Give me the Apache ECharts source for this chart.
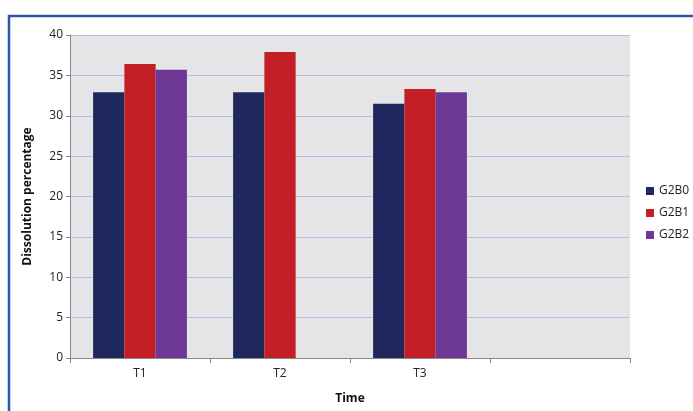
<!DOCTYPE html>
<html><head><meta charset="utf-8">
<script src="https://cdn.jsdelivr.net/npm/echarts@6/dist/echarts.min.js"></script>
<style>html,body{margin:0;padding:0;background:#fff}#c{width:693px;height:411px}</style>
</head><body><div id="c"></div>
<script>
var categories = ['T1', 'T2', 'T3', ''];
var seriesNames = ['G2B0', 'G2B1', 'G2B2'];
var g2b0 = [32.9, 32.9, 31.5, null];
var g2b1 = [36.4, 37.9, 33.3, null];
var g2b2 = [35.7, null, 32.9, null];
var yTicks = [0, 5, 10, 15, 20, 25, 30, 35, 40];
var colors = ['#1f285c', '#c21f26', '#6e3896'];

var chart = echarts.init(document.getElementById('c'));
var font = '"Open Sans", "DejaVu Sans", sans-serif';
chart.setOption({
  animation: false,
  textStyle: {fontFamily: font},
  graphic: [{
    type: 'rect', silent: true, z: 100,
    shape: {x: 9, y: 16, width: 800, height: 500},
    style: {fill: 'none', stroke: '#2b58a8', lineWidth: 2.5}
  }],
  grid: {left: 70, right: 63, top: 35, bottom: 53, show: true, backgroundColor: '#e5e5e7', borderWidth: 0},
  legend: {
    orient: 'vertical', left: 641, top: 180, itemGap: 10,
    itemWidth: 8, itemHeight: 8, icon: 'rect',
    textStyle: {fontSize: 12, color: '#222', fontFamily: font},
    data: seriesNames
  },
  xAxis: {
    type: 'category', data: categories,
    name: 'Time', nameLocation: 'middle', nameGap: 35,
    nameTextStyle: {fontWeight: 'bold', fontSize: 12, color: '#111'},
    axisLine: {lineStyle: {color: '#888'}},
    axisTick: {show: true, length: 5, lineStyle: {color: '#888'}},
    axisLabel: {fontSize: 12, color: '#222', margin: 10}
  },
  yAxis: {
    type: 'value', min: 0, max: 40, interval: 5,
    name: 'Dissolution percentage', nameLocation: 'middle', nameGap: 36,
    nameTextStyle: {fontWeight: 'bold', fontSize: 12, color: '#111'},
    axisLine: {show: true, lineStyle: {color: '#888'}},
    axisTick: {show: true, length: 4, lineStyle: {color: '#888'}},
    axisLabel: {fontSize: 12, color: '#222', margin: 7},
    splitLine: {lineStyle: {color: '#adc3e6', width: 1}}
  },
  series: [
    {name: seriesNames[0], type: 'bar', data: g2b0, barGap: '0%', barCategoryGap: '33%', itemStyle: {color: colors[0]}},
    {name: seriesNames[1], type: 'bar', data: g2b1, barGap: '0%', barCategoryGap: '33%', itemStyle: {color: colors[1]}},
    {name: seriesNames[2], type: 'bar', data: g2b2, barGap: '0%', barCategoryGap: '33%', itemStyle: {color: colors[2]}}
  ]
});
</script></body></html>
